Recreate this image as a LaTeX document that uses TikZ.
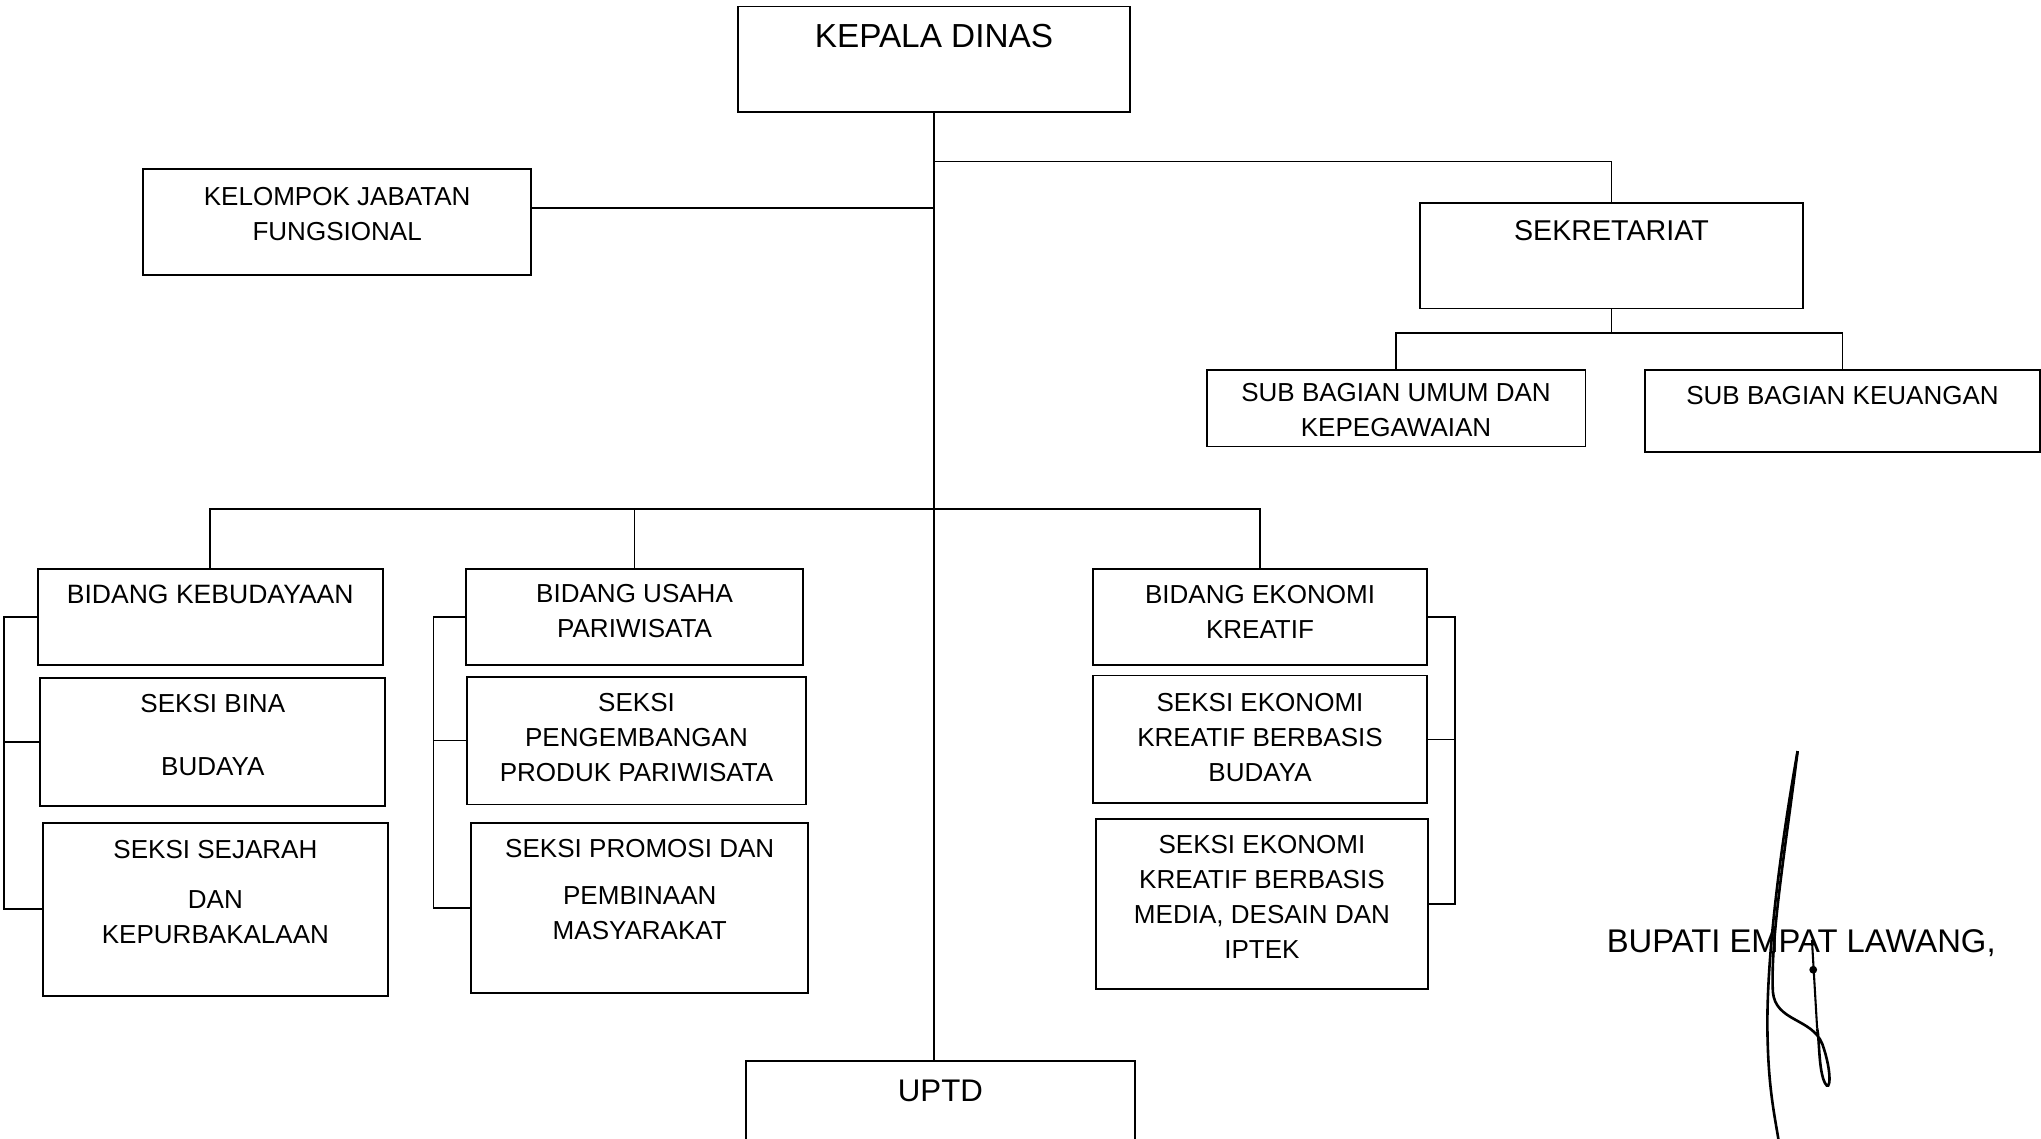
\documentclass[tikz,border=0pt]{standalone}
\usepackage{fontspec}
\setmainfont{Liberation Sans}
\usetikzlibrary{fit,calc}
\begin{document}
\begin{tikzpicture}[x=0.5pt,y=0.5pt,yscale=-1,
    box/.style={draw, line width=0.7pt, inner sep=0pt},
    txt/.style={anchor=north, inner sep=0pt, align=center, font=\fontsize{10}{13.5}\selectfont},
    bigtxt/.style={txt, font=\fontsize{12.8}{15}\selectfont},
    conn/.style={line width=0.6pt}]
\useasboundingbox (0,0) rectangle (1568,875);
\clip (0,0) rectangle (1568,875);

%Shape: Rectangle
\node[box, fit={(567,5) (868,86)}] (kepala) {};
%Shape: Rectangle
\node[box, fit={(110,130) (408,211)}] (jabatan) {};
%Shape: Rectangle
\node[box, fit={(1091,156) (1385,237)}] (sekretariat) {};
%Shape: Rectangle
\node[box, fit={(927,284) (1218,343)}] (subumum) {};
%Shape: Rectangle
\node[box, fit={(1264,284) (1567,347)}] (subkeu) {};
%Shape: Rectangle
\node[box, fit={(29,437) (294,511)}] (bidbud) {};
%Shape: Rectangle
\node[box, fit={(31,521) (296,619)}] (binabud) {};
%Shape: Rectangle
\node[box, fit={(33,632) (298,765)}] (sejarah) {};
%Shape: Rectangle
\node[box, fit={(358,437) (617,511)}] (bidusaha) {};
%Shape: Rectangle
\node[box, fit={(359,520) (619,618)}] (pengembangan) {};
%Shape: Rectangle
\node[box, fit={(362,632) (621,763)}] (promosi) {};
%Shape: Rectangle
\node[box, fit={(840,437) (1096,511)}] (bidek) {};
%Shape: Rectangle
\node[box, fit={(840,519) (1096,617)}] (eksbud) {};
%Shape: Rectangle
\node[box, fit={(842,629) (1097,760)}] (eksmedia) {};
%Shape: Rectangle
\node[box, fit={(573,815) (872,905)}] (uptd) {};

% Text Node
\node[bigtxt] (kepala-t) at ($(kepala.north)+(0,14)$) {KEPALA DINAS};
% Text Node
\node[txt] (jabatan-t) at ($(jabatan.north)+(0,14)$) {KELOMPOK JABATAN\\FUNGSIONAL};
% Text Node
\node[txt, font=\fontsize{11}{14}\selectfont] (sekretariat-t) at ($(sekretariat.north)+(0,14)$) {SEKRETARIAT};
% Text Node
\node[txt] (subumum-t) at ($(subumum.north)+(0,11)$) {SUB BAGIAN UMUM DAN\\KEPEGAWAIAN};
% Text Node
\node[txt] (subkeu-t) at ($(subkeu.north)+(0,13)$) {SUB BAGIAN KEUANGAN};
% Text Node
\node[txt, font=\fontsize{10.2}{13.5}\selectfont] (bidbud-t) at ($(bidbud.north)+(0,13)$) {BIDANG KEBUDAYAAN};
% Text Node
\node[txt] (binabud-t) at ($(binabud.north)+(0,13)$) {SEKSI BINA\\[10.5pt]BUDAYA};
% Text Node
\node[txt] (sejarah-t) at ($(sejarah.north)+(0,14)$) {SEKSI SEJARAH\\[5.5pt]DAN\\KEPURBAKALAAN};
% Text Node
\node[txt] (bidusaha-t) at ($(bidusaha.north)+(0,12)$) {BIDANG USAHA\\PARIWISATA};
% Text Node
\node[txt] (pengembangan-t) at ($(pengembangan.north)+(0,13)$) {SEKSI\\PENGEMBANGAN\\PRODUK PARIWISATA};
% Text Node
\node[txt] (promosi-t) at ($(promosi.north)+(0,13)$) {SEKSI PROMOSI DAN\\[4.5pt]PEMBINAAN\\MASYARAKAT};
% Text Node
\node[txt] (bidek-t) at ($(bidek.north)+(0,13)$) {BIDANG EKONOMI\\KREATIF};
% Text Node
\node[txt] (eksbud-t) at ($(eksbud.north)+(0,14)$) {SEKSI EKONOMI\\KREATIF BERBASIS\\BUDAYA};
% Text Node
\node[txt] (eksmedia-t) at ($(eksmedia.north)+(0,13)$) {SEKSI EKONOMI\\KREATIF BERBASIS\\MEDIA, DESAIN DAN\\IPTEK};
% Text Node
\node[txt, font=\fontsize{12}{14}\selectfont] (uptd-t) at ($(uptd.north)+(0,15)$) {UPTD};
% Text Node
\node[anchor=base west, inner sep=0pt, font=\fontsize{12.6}{15}\selectfont] (bupati) at (1234,732) {BUPATI EMPAT LAWANG,};

\coordinate (sekjoin) at (0,124);
\coordinate (subbus) at (0,256);
\coordinate (bus) at (0,391);
\coordinate (lb) at (3,0);
\coordinate (lu) at (333,0);
\coordinate (le) at (1118,0);
\coordinate (jf) at ($(jabatan.north east)!0.37!(jabatan.south east)$);

%Straight Lines
\draw[conn] (kepala.south) -- (kepala.south |- uptd.north);
\draw[conn] (kepala.south |- sekjoin) -| (sekretariat.north);
\draw[conn] (jf) -- (jf -| kepala.south);
%Straight Lines
\draw[conn] (sekretariat.south) -- (sekretariat.south |- subbus);
\draw[conn] (subumum.north) |- (sekretariat.south |- subbus) -| (subkeu.north);
%Straight Lines
\draw[conn] (bidbud.north) |- (bidek.north |- bus) -- (bidek.north);
\draw[conn] (bidusaha.north) -- (bidusaha.north |- bus);
%Straight Lines
\draw[conn] (bidbud.west) -| (lb |- sejarah.west) -- (sejarah.west);
\draw[conn] (binabud.west) -- (lb |- binabud.west);
\draw[conn] (bidusaha.west) -| (lu |- promosi.west) -- (promosi.west);
\draw[conn] (pengembangan.west) -- (lu |- pengembangan.west);
\draw[conn] (bidek.east) -| (le |- eksmedia.east) -- (eksmedia.east);
\draw[conn] (eksbud.east) -- (le |- eksbud.east);

%Curve Lines
\draw[line width=1pt] (1381,577) .. controls (1368,650) and (1356,740) .. (1358,800) .. controls (1359,840) and (1364,860) .. (1367,880);
\draw[line width=1pt] (1381,577) .. controls (1372,650) and (1360,720) .. (1362,762) .. controls (1364,785) and (1392,782) .. (1400,802) .. controls (1408,825) and (1406,840) .. (1402,832) .. controls (1397,822) and (1398,800) .. (1396,790);
\draw[line width=0.8pt] (1392,722) -- (1396,790);
\fill (1393,745) circle (3);
\end{tikzpicture}
\end{document}
